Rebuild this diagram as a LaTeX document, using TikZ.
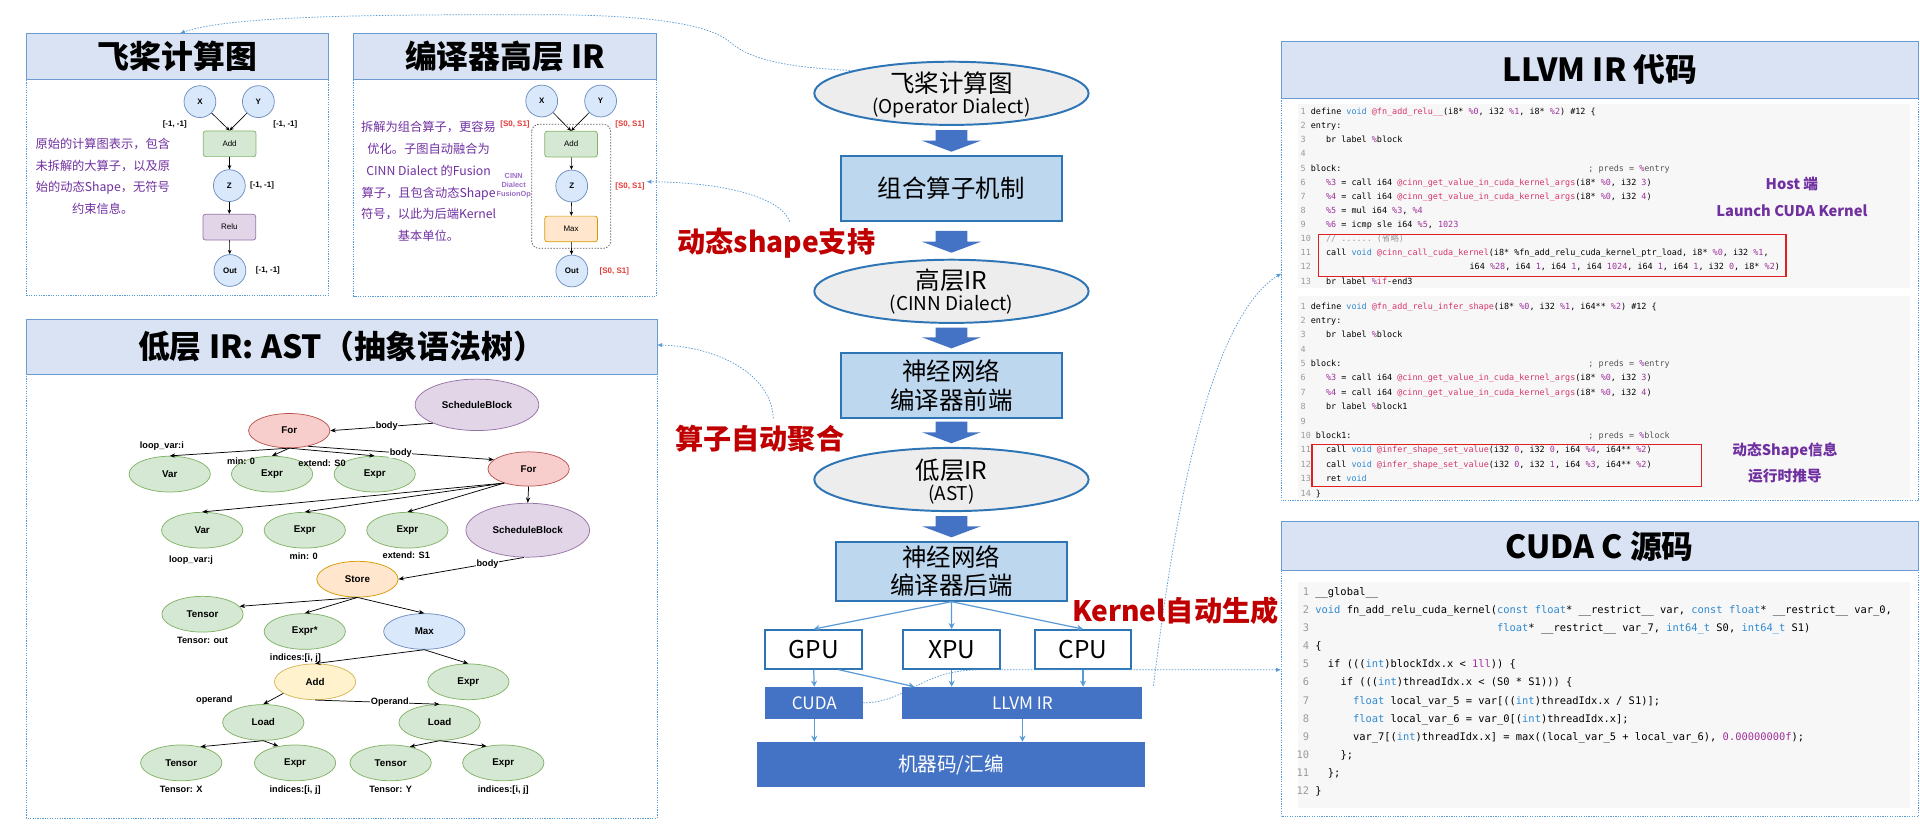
\documentclass[tikz,border=0pt]{standalone}
\usepackage{fontspec}
\setmainfont{Liberation Sans}
\newfontfamily\cjk{Noto Sans CJK SC}
\newfontfamily\mono{DejaVu Sans Mono}
\usetikzlibrary{shapes.geometric,arrows.meta,calc}

\definecolor{bandfill}{HTML}{DAE3F3}
\definecolor{bandline}{HTML}{6C9BD2}
\definecolor{conn}{HTML}{5B9BD5}
\definecolor{purp}{HTML}{7030A0}
\definecolor{lpurp}{HTML}{9B6DC6}
\definecolor{darkred}{HTML}{C00000}
\definecolor{shred}{HTML}{E53935}
\definecolor{elfill}{HTML}{EDEDED}
\definecolor{flowline}{HTML}{2E75B6}
\definecolor{boxfill}{HTML}{BDD7EE}
\definecolor{barfill}{HTML}{4472C4}
\definecolor{codebg}{HTML}{F7F7F8}
\definecolor{kwblue}{HTML}{2F8AD0}
\definecolor{fnpink}{HTML}{D6336C}
\definecolor{regpur}{HTML}{A0309A}
\definecolor{lnum}{HTML}{9A9A9A}
\definecolor{cmtgray}{HTML}{555555}
\definecolor{redbox}{HTML}{E02020}
\definecolor{gfill}{HTML}{D5E8D4}\definecolor{gline}{HTML}{82B366}
\definecolor{rfill}{HTML}{F8CECC}\definecolor{rline}{HTML}{B85450}
\definecolor{pfill}{HTML}{E1D5E7}\definecolor{pline}{HTML}{9673A6}
\definecolor{ofill}{HTML}{FFE6CC}\definecolor{oline}{HTML}{D79B00}
\definecolor{bfill}{HTML}{DAE8FC}\definecolor{bline}{HTML}{6C8EBF}
\definecolor{yfill}{HTML}{FFF2CC}\definecolor{yline}{HTML}{D6B656}

\newcommand\ckw[1]{\textcolor{kwblue}{#1}}
\newcommand\cfn[1]{\textcolor{fnpink}{#1}}
\newcommand\crg[1]{\textcolor{regpur}{#1}}
\newcommand\ccm[1]{\textcolor{lnum}{#1}}
\newcommand\cnum[1]{\makebox[10.24pt][r]{\textcolor{lnum}{#1}}}
\newcommand\flowarrow[2]{\fill[barfill] (764,#1) -- (790,#1) -- (790,{#2-9}) -- (801,{#2-9}) -- (777,#2) -- (753,{#2-9}) -- (764,{#2-9}) -- cycle;}

\tikzset{
 panel/.style={draw=conn, line width=0.7pt, dash pattern=on 1pt off 1pt},
 band/.style={draw=bandline, fill=bandfill, line width=0.8pt},
 ptitle/.style={font={\cjk\bfseries\fontsize{26}{30}\selectfont}, text=black, inner sep=0pt},
 desc/.style={font={\cjk\fontsize{10}{17.8}\selectfont}, text=purp, align=center, inner sep=0pt},
 circ/.style={circle, fill=bfill, draw=bline, line width=0.6pt, minimum size=26pt, inner sep=0pt, font={\bfseries\fontsize{6.5}{7}\selectfont}},
 opbox/.style={rectangle, rounded corners=2pt, line width=0.6pt, minimum width=43pt, minimum height=21pt, inner sep=0pt, font={\fontsize{6.5}{7}\selectfont}},
 slab/.style={font={\bfseries\fontsize{6.5}{7}\selectfont}, inner sep=0pt},
 redlab/.style={slab, text=shred},
 parr/.style={-{Stealth[length=3.5pt,width=3pt]}, line width=0.5pt, black},
 ast/.style={ellipse, minimum width=66.4pt, minimum height=29.2pt, inner sep=0pt, line width=0.6pt, font={\bfseries\fontsize{8}{9}\selectfont}},
 gnode/.style={ast, fill=gfill, draw=gline},
 rnode/.style={ast, fill=rfill, draw=rline, minimum height=28pt},
 pnode/.style={ast, fill=pfill, draw=pline},
 onode/.style={ast, fill=ofill, draw=oline},
 bnode/.style={ast, fill=bfill, draw=bline},
 ynode/.style={ast, fill=yfill, draw=yline},
 elab/.style={font={\bfseries\fontsize{7.5}{8}\selectfont}, inner sep=0.5pt},
 elabw/.style={elab, fill=white},
 aarr/.style={-{Stealth[length=4.5pt,width=3.5pt]}, line width=0.6pt, black},
 flowell/.style={ellipse, fill=elfill, draw=flowline, line width=1.6pt, minimum width=224pt, minimum height=51.6pt, inner sep=0pt},
 ftxt/.style={font={\cjk\fontsize{20}{22}\selectfont}, inner sep=0pt},
 fsub/.style={font={\cjk\fontsize{15.5}{18}\selectfont}, inner sep=0pt},
 flowbox/.style={rectangle, fill=boxfill, draw=flowline, line width=1.6pt, inner sep=0pt, font={\cjk\fontsize{20}{23.2}\selectfont}, align=center},
 devbox/.style={rectangle, fill=white, draw=flowline, line width=1.6pt, minimum width=79pt, minimum height=31.5pt, inner sep=0pt, font={\cjk\fontsize{20}{22}\selectfont}},
 bar/.style={rectangle, fill=barfill, inner sep=0pt, text=white, font={\cjk\fontsize{14}{16}\selectfont}},
 farr/.style={-{Stealth[length=5pt,width=5pt]}, draw=conn, line width=1pt},
 dconn/.style={draw=conn, line width=0.6pt, dash pattern=on 1.2pt off 1.2pt, -{Latex[length=4pt,width=3.5pt]}},
 redt/.style={font={\cjk\bfseries\fontsize{23}{26}\selectfont}, text=darkred, inner sep=0pt},
 note/.style={font={\cjk\bfseries\fontsize{12}{14}\selectfont}, text=purp, inner sep=0pt},
 lcode/.style={anchor=west, inner sep=0pt, font={\mono\fontsize{6.9}{8}\selectfont\frenchspacing}, text height=5pt, text depth=1.5pt},
 ccode/.style={anchor=west, inner sep=0pt, font={\mono\fontsize{8.5}{10}\selectfont\frenchspacing}, text height=6.2pt, text depth=1.8pt},
 rbox/.style={draw=redbox, line width=1pt},
}

\begin{document}
\begin{tikzpicture}[x=1pt,y=-1pt]
\useasboundingbox (0,0) rectangle (1568,678);
\fill[white] (0,0) rectangle (1568,678);

% ---------------- panels ----------------
\draw[panel] (21.8,27.2) rectangle (268,241.5);
\draw[band] (21.8,27.2) rectangle (268,64.8);
\node[ptitle] (t1) at (145,46) {飞桨计算图};

\draw[panel] (289,27.2) rectangle (536,242);
\draw[band] (289,27.2) rectangle (536,64.8);
\node[ptitle] (t2) at (412.5,46) {编译器高层 IR};

\draw[panel] (21.6,261) rectangle (536.6,668);
\draw[band] (21.6,261) rectangle (536.6,305.5);
\node[ptitle] (t3) at (279,283) {低层 IR: AST（抽象语法树）};

\draw[panel] (1046.5,34) rectangle (1566.5,409);
\draw[band] (1046.5,34) rectangle (1566.5,80.3);
\node[ptitle] (t4) at (1306.5,57) {LLVM IR 代码};

\draw[panel] (1046.2,426) rectangle (1566.5,667);
\draw[band] (1046.2,426) rectangle (1566.5,466);
\node[ptitle] (t5) at (1306.4,446) {CUDA C 源码};

\coordinate (p1top) at (147,27.2);
\coordinate (p2z) at (528,148.4);
\coordinate (p3e) at (536.6,281.7);
\coordinate (p4w) at (1046.5,223.2);
\coordinate (p5w) at (1046.2,547);

% ---------------- panel 1 ----------------
\node[desc] (d1) at (84,144) {原始的计算图表示，包含\\未拆解的大算子，以及原\\始的动态Shape，无符号\\约束信息。};
\node[circ] (x1) at (163.3,83) {X};
\node[circ] (y1) at (211,83) {Y};
\node[opbox, fill=gfill, draw=gline] (add1) at (187.5,117.4) {Add};
\node[circ] (z1) at (187.3,151.6) {Z};
\node[opbox, fill=pfill, draw=pline] (relu1) at (187.3,185.5) {Relu};
\node[circ] (out1) at (187.8,220.9) {Out};
\draw[parr] (x1) -- (add1.north);
\draw[parr] (y1) -- (add1.north);
\draw[parr] (add1) -- (z1);
\draw[parr] (z1) -- (relu1);
\draw[parr] (relu1) -- (out1);
\node[slab] (s1a) at (142.7,101.3) {[-1, -1]};
\node[slab] (s1b) at (233,101.3) {[-1, -1]};
\node[slab] (s1c) at (214,151.6) {[-1, -1]};
\node[slab] (s1d) at (218.8,220.9) {[-1, -1]};

% ---------------- panel 2 ----------------
\node[desc] (d2) at (350,148.2) {拆解为组合算子，更容易\\优化。子图自动融合为\\CINN Dialect 的Fusion\\算子，且包含动态Shape\\符号，以此为后端Kernel\\基本单位。};
\draw[draw=black!65, line width=0.6pt, dash pattern=on 1.2pt off 1.2pt, rounded corners=6pt] (434.2,101.5) rectangle (498.7,202.8);
\node[circ] (x2) at (442.4,82.5) {X};
\node[circ] (y2) at (490.5,82.5) {Y};
\node[opbox, fill=gfill, draw=gline] (add2) at (466.4,117.7) {Add};
\node[circ] (z2) at (466.9,151.9) {Z};
\node[opbox, fill=ofill, draw=oline] (max2) at (466.4,187) {Max};
\node[circ] (out2) at (467,221.3) {Out};
\draw[parr] (x2) -- (add2.north);
\draw[parr] (y2) -- (add2.north);
\draw[parr] (add2) -- (z2);
\draw[parr] (z2) -- (max2);
\draw[parr] (max2) -- (out2);
\node[redlab] (s2a) at (420.6,101.8) {[S0, S1]};
\node[redlab] (s2b) at (514.5,101.5) {[S0, S1]};
\node[redlab] (s2c) at (514.5,151.9) {[S0, S1]};
\node[redlab] (s2d) at (501.7,221.3) {[S0, S1]};
\node[font={\bfseries\fontsize{6}{7.4}\selectfont}, text=lpurp, align=center, inner sep=0pt] (cinn) at (419.5,151.7) {CINN\\Dialect\\FusionOp};

% ---------------- AST panel ----------------
\node[pnode, minimum width=101pt, minimum height=42pt] (sb1) at (389.5,330.6) {ScheduleBlock};
\node[rnode] (for1) at (236.2,351.7) {For};
\node[gnode] (var1) at (138.6,387.2) {Var};
\node[gnode] (ex1) at (222.2,387.2) {Expr};
\node[gnode] (ex2) at (306,387.2) {Expr};
\node[rnode] (for2) at (431.7,383) {For};
\node[gnode] (var2) at (165.1,433) {Var};
\node[gnode] (ex3) at (248.9,433) {Expr};
\node[gnode] (ex4) at (332.7,433) {Expr};
\node[pnode, minimum width=101pt, minimum height=44pt] (sb2) at (431,433) {ScheduleBlock};
\node[onode] (store) at (291.9,473) {Store};
\node[gnode] (ten1) at (165.4,501.6) {Tensor};
\node[gnode] (exs) at (248.9,515.7) {Expr*};
\node[bnode] (maxn) at (346.5,515.7) {Max};
\node[ynode] (addn) at (257.3,556.8) {Add};
\node[gnode] (ex5) at (382.5,556.8) {Expr};
\node[gnode] (load1) at (215,590) {Load};
\node[gnode] (load2) at (359,590) {Load};
\node[gnode] (ten2) at (148,623) {Tensor};
\node[gnode] (ex6) at (241,623) {Expr};
\node[gnode] (ten3) at (319,623) {Tensor};
\node[gnode] (ex7) at (411,623) {Expr};

\draw[aarr] (sb1.south west) -- node[elabw, pos=0.45] (lb1) {body} (for1.east);
\draw[aarr] (for1.south) -- (var1.north);
\draw[aarr] (for1.south) -- (ex1.north);
\draw[aarr] (for1.south) -- (ex2.north);
\draw[aarr] (for1.-40) -- node[elabw, pos=0.5] (lb2) {body} (for2.165);
\node[elab] (lvi) at (132.2,364.3) {loop\_var:i};
\node[elab] (lmin0) at (196.9,377) {min: 0};
\node[elab] (lext0) at (263,378.4) {extend: S0};
\draw[aarr] (for2.210) -- (var2.north);
\draw[aarr] (for2.210) -- (ex3.north);
\draw[aarr] (for2.210) -- (ex4.north);
\draw[aarr] (for2.south) -- (sb2.north);
\node[elab] (lvj) at (156,457.5) {loop\_var:j};
\node[elab] (lmin1) at (248,454.6) {min: 0};
\node[elab] (lext1) at (331.8,453.3) {extend: S1};
\draw[aarr] (sb2.262) -- node[elabw, pos=0.29] (lb3) {body} (store.east);
\draw[aarr] (store.south) -- (ten1.12);
\draw[aarr] (store.south) -- (exs.north);
\draw[aarr] (store.south) -- (maxn.north);
\node[elab] (ltout) at (165.4,523) {Tensor: out};
\node[elab] (lidx0) at (241.3,537.6) {indices:[i, j]};
\draw[aarr] (maxn.south) -- (addn.north);
\draw[aarr] (maxn.south) -- (ex5.north);
\draw[aarr] (addn.200) -- (load1.north);
\node[elab] (lop1) at (175,572) {operand};
\draw[aarr] (addn.south) -- node[elabw, pos=0.6] (lop2) {Operand} (load2.north);
\draw[aarr] (load1.south) -- (ten2.40);
\draw[aarr] (load1.south) -- (ex6.135);
\draw[aarr] (load2.south) -- (ten3.40);
\draw[aarr] (load2.south) -- (ex7.135);
\node[elab] (ltx) at (148,645) {Tensor: X};
\node[elab] (lidx1) at (241,645) {indices:[i, j]};
\node[elab] (lty) at (319,645) {Tensor: Y};
\node[elab] (lidx2) at (411,645) {indices:[i, j]};

% ---------------- centre flow ----------------
\node[flowell] (e1) at (777,76.2) {};
\node[ftxt] (e1a) at (777,68) {飞桨计算图};
\node[fsub] (e1b) at (777,88.5) {(Operator Dialect)};
\node[flowbox, minimum width=180.8pt, minimum height=53.1pt] (b1) at (777,153.6) {组合算子机制};
\node[flowell] (e2) at (777,237.9) {};
\node[ftxt] (e2a) at (777,228.7) {高层IR};
\node[fsub] (e2b) at (777,249) {(CINN Dialect)};
\node[flowbox, minimum width=180.8pt, minimum height=53.1pt] (b2) at (777,315) {神经网络\\编译器前端};
\node[flowell] (e3) at (777,391.6) {};
\node[ftxt] (e3a) at (777,383.8) {低层IR};
\node[fsub] (e3b) at (777,403.7) {(AST)};
\node[flowbox, minimum width=189pt, minimum height=48.1pt] (b3) at (777,466.5) {神经网络\\编译器后端};

\flowarrow{106.2}{123.9}
\flowarrow{188.6}{206.4}
\flowarrow{267.5}{284.5}
\flowarrow{344.4}{362}
\flowarrow{421.4}{438.8}

\node[devbox] (gpu) at (664.5,530.3) {GPU};
\node[devbox] (xpu) at (777.2,530.3) {XPU};
\node[devbox] (cpu) at (884.5,530.3) {CPU};

% dotted connectors under the bars
\coordinate (c5s) at (705,574);
\draw[dconn] (c5s) .. controls (740,574) and (752,547) .. (800,547) -- (p5w);
\coordinate (c4s) at (942,560);
\draw[dconn] (c4s) .. controls (958,430) and (985,262) .. (p4w);

\node[bar, minimum width=80pt, minimum height=26pt] (cudabar) at (665,574) {CUDA};
\node[bar, minimum width=196pt, minimum height=26pt] (llvmbar) at (835,574) {LLVM IR};
\node[bar, minimum width=317pt, minimum height=37pt, font={\cjk\fontsize{16}{18}\selectfont}] (mcbar) at (776.5,624.5) {机器码/汇编};

\draw[farr] (b3.south) -- (gpu.north);
\draw[farr] (b3.south) -- (xpu.north);
\draw[farr] (b3.south) -- (cpu.north);
\draw[farr] (gpu.south) -- (cudabar.north);
\draw[farr] ($(gpu.south)!0.5!(gpu.south east)$) -- ($(llvmbar.north west)+(10,0)$);
\draw[farr] (xpu.south) -- (xpu.south |- llvmbar.north);
\draw[farr] (cpu.south) -- (cpu.south |- llvmbar.north);
\draw[farr] (cudabar.south) -- (cudabar.south |- mcbar.north);
\draw[farr] (llvmbar.south) -- (llvmbar.south |- mcbar.north);

% red labels and their connectors
\node[redt] (r1) at (634,198.7) {动态shape支持};
\node[redt] (r2) at (620.5,358) {算子自动聚合};
\node[redt] (r3) at (959.8,499) {Kernel自动生成};
\draw[dconn] (e1.167) .. controls (640,55) and (612,48) .. (597,35) .. controls (575,15) and (500,12) .. (440,12) .. controls (320,12) and (190,12) .. (p1top);
\coordinate (c2s) at (645,181);
\draw[dconn] (c2s) .. controls (638,162) and (595,149) .. (p2z);
\coordinate (c3s) at (631.5,341.6);
\draw[dconn] (c3s) .. controls (630,305) and (585,283) .. (p3e);

% ---------------- LLVM IR code ----------------
\fill[codebg] (1060,85) rectangle (1559.5,235.5);
\fill[codebg] (1060,242) rectangle (1559.5,406.5);

\node[lcode] (a1) at (1062,91.7) {\ccm{1}~define \ckw{void} \cfn{@fn\_add\_relu\_\_}(i8* \crg{\%0}, i32 \crg{\%1}, i8* \crg{\%2}) \#12 \{};
\node[lcode] (a2) at (1062,103.2) {\ccm{2}~entry:};
\node[lcode] (a3) at (1062,114.8) {\ccm{3}~~~~br label \crg{\%}block};
\node[lcode] (a4) at (1062,126.3) {\ccm{4}};
\node[lcode] (a5) at (1062,137.9) {\ccm{5}~block:};
\node[lcode, text=cmtgray] (a5c) at (1297,137.9) {; preds = \crg{\%}entry};
\node[lcode] (a6) at (1062,149.4) {\ccm{6}~~~~\crg{\%3} = call i64 \cfn{@cinn\_get\_value\_in\_cuda\_kernel\_args}(i8* \crg{\%0}, i32 \crg{3})};
\node[lcode] (a7) at (1062,161) {\ccm{7}~~~~\crg{\%4} = call i64 \cfn{@cinn\_get\_value\_in\_cuda\_kernel\_args}(i8* \crg{\%0}, i32 \crg{4})};
\node[lcode] (a8) at (1062,172.5) {\ccm{8}~~~~\crg{\%5} = mul i64 \crg{\%3}, \crg{\%4}};
\node[lcode] (a9) at (1062,184.1) {\ccm{9}~~~~\crg{\%6} = icmp sle i64 \crg{\%5}, \crg{1023}};
\node[lcode] (a10) at (1062,195.6) {\ccm{10}~~~\ccm{// ...... ({\cjk 省略})}};
\node[lcode] (a11) at (1062,207.1) {\ccm{11}~~~call \ckw{void} \cfn{@cinn\_call\_cuda\_kernel}(i8* \%fn\_add\_relu\_cuda\_kernel\_ptr\_load, i8* \crg{\%0}, i32 \crg{\%1},};
\node[lcode] (a12) at (1062,218.7) {\ccm{12}};
\node[lcode] (a12c) at (1200,218.7) {i64 \crg{\%28}, i64 \crg{1}, i64 \crg{1}, i64 \crg{1024}, i64 \crg{1}, i64 \crg{1}, i32 \crg{0}, i8* \crg{\%2})};
\node[lcode] (a13) at (1062,230.2) {\ccm{13}~~~br label \crg{\%}\cfn{if}-end3};
\draw[rbox] (1076.6,191.5) rectangle (1458.6,225.8);

\node[lcode] (c1) at (1062,250.6) {\ccm{1}~define \ckw{void} \cfn{@fn\_add\_relu\_infer\_shape}(i8* \crg{\%0}, i32 \crg{\%1}, i64** \crg{\%2}) \#12 \{};
\node[lcode] (c2) at (1062,262.35) {\ccm{2}~entry:};
\node[lcode] (c3) at (1062,274.1) {\ccm{3}~~~~br label \crg{\%}block};
\node[lcode] (c4) at (1062,285.85) {\ccm{4}};
\node[lcode] (c5) at (1062,297.6) {\ccm{5}~block:};
\node[lcode, text=cmtgray] (c5c) at (1297,297.6) {; preds = \crg{\%}entry};
\node[lcode] (c6) at (1062,309.35) {\ccm{6}~~~~\crg{\%3} = call i64 \cfn{@cinn\_get\_value\_in\_cuda\_kernel\_args}(i8* \crg{\%0}, i32 \crg{3})};
\node[lcode] (c7) at (1062,321.1) {\ccm{7}~~~~\crg{\%4} = call i64 \cfn{@cinn\_get\_value\_in\_cuda\_kernel\_args}(i8* \crg{\%0}, i32 \crg{4})};
\node[lcode] (c8) at (1062,332.85) {\ccm{8}~~~~br label \crg{\%}block1};
\node[lcode] (c9) at (1062,344.6) {\ccm{9}};
\node[lcode] (c10) at (1062,356.35) {\ccm{10}~block1:};
\node[lcode, text=cmtgray] (c10c) at (1297,356.35) {; preds = \crg{\%}block};
\node[lcode] (c11) at (1062,368.1) {\ccm{11}~~~call \ckw{void} \cfn{@infer\_shape\_set\_value}(i32 \crg{0}, i32 \crg{0}, i64 \crg{\%4}, i64** \crg{\%2})};
\node[lcode] (c12) at (1062,379.85) {\ccm{12}~~~call \ckw{void} \cfn{@infer\_shape\_set\_value}(i32 \crg{0}, i32 \crg{1}, i64 \crg{\%3}, i64** \crg{\%2})};
\node[lcode] (c13) at (1062,391.6) {\ccm{13}~~~ret \ckw{void}};
\node[lcode] (c14) at (1062,403.35) {\ccm{14}~\}};
\draw[rbox] (1071.5,362.8) rectangle (1389.5,397.6);

\node[note] (n1) at (1463.4,150.4) {Host 端};
\node[note] (n2) at (1463.4,171.8) {Launch CUDA Kernel};
\node[note] (n3) at (1457.7,367.8) {动态Shape信息};
\node[note] (n4) at (1457.7,388.7) {运行时推导};

% ---------------- CUDA C code ----------------
\fill[codebg] (1060,475.6) rectangle (1559.5,660);
\node[ccode] (k1) at (1058.7,484) {\cnum{1}~\_\_global\_\_};
\node[ccode] (k2) at (1058.7,498.8) {\cnum{2}~\ckw{void} fn\_add\_relu\_cuda\_kernel(\ckw{const} \ckw{float}* \_\_restrict\_\_ var, \ckw{const} \ckw{float}* \_\_restrict\_\_ var\_0,};
\node[ccode] (k3) at (1058.7,513.6) {\cnum{3}~\hspace*{148.4pt}\ckw{float}* \_\_restrict\_\_ var\_7, \ckw{int64\_t} S0, \ckw{int64\_t} S1)};
\node[ccode] (k4) at (1058.7,528.4) {\cnum{4}~\{};
\node[ccode] (k5) at (1058.7,543.2) {\cnum{5}~~~if (((\ckw{int})blockIdx.x < \crg{1ll})) \{};
\node[ccode] (k6) at (1058.7,558) {\cnum{6}~~~~~if (((\ckw{int})threadIdx.x < (S0 * S1))) \{};
\node[ccode] (k7) at (1058.7,572.8) {\cnum{7}~~~~~~~\ckw{float} local\_var\_5 = var[((\ckw{int})threadIdx.x / S1)];};
\node[ccode] (k8) at (1058.7,587.6) {\cnum{8}~~~~~~~\ckw{float} local\_var\_6 = var\_0[(\ckw{int})threadIdx.x];};
\node[ccode] (k9) at (1058.7,602.4) {\cnum{9}~~~~~~~var\_7[(\ckw{int})threadIdx.x] = max((local\_var\_5 + local\_var\_6), \crg{0.00000000f});};
\node[ccode] (k10) at (1058.7,617.2) {\cnum{10}~~~~~\};};
\node[ccode] (k11) at (1058.7,632) {\cnum{11}~~~\};};
\node[ccode] (k12) at (1058.7,646.8) {\cnum{12}~\}};
\end{tikzpicture}
\end{document}
